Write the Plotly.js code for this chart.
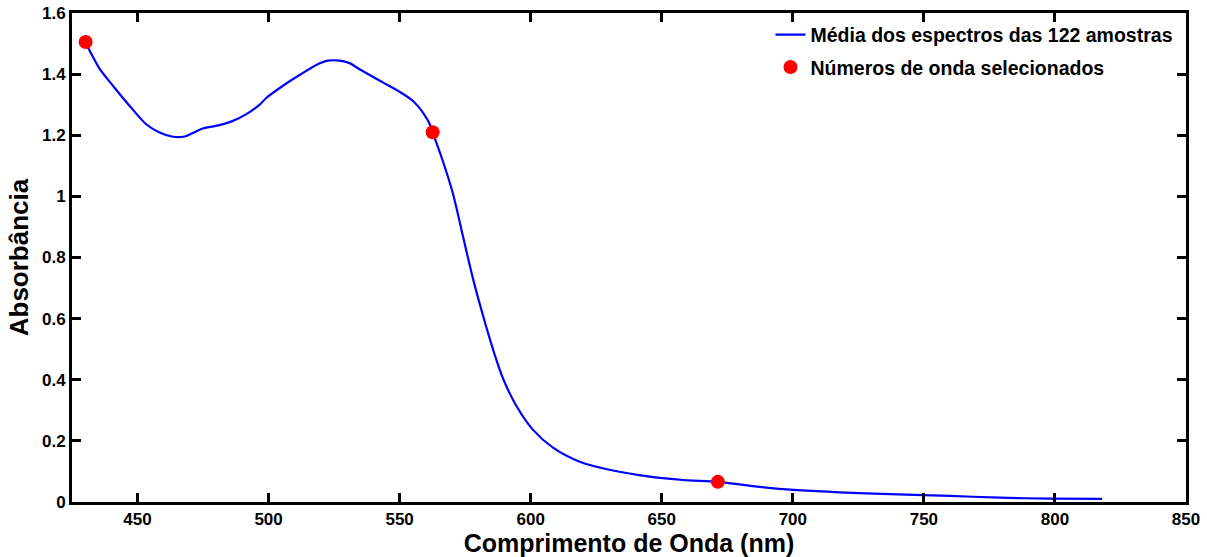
<!DOCTYPE html>
<html>
<head>
<meta charset="utf-8">
<script src="https://cdn.plot.ly/plotly-3.0.1.min.js"></script>
<style>html,body{margin:0;padding:0;background:#fff}#chart{width:1207px;height:557px}</style>
</head>
<body>
<div id="chart"></div>
<script>
// Mean spectrum (wavelength in nm, absorbance)
const wavelength = [430, 431.4, 435.5, 440.6, 447, 453.3, 458.4, 463.5, 468, 471.1, 474.9, 481.3, 486.4, 491.5, 496.6, 499.1, 505.5, 511.8, 518.2, 522.6, 527.1, 530.9, 534.7, 543.6, 550, 555.1, 558.9, 562.1, 562.6, 566.5, 570.3, 574.2, 578, 581.8, 585.6, 589.4, 594.5, 600.9, 608.5, 618.7, 631.4, 645.4, 658.1, 671.4, 683.6, 696.3, 728.1, 759.9, 779, 798.1, 818];
const absorbance = [1.505, 1.482, 1.418, 1.362, 1.296, 1.236, 1.209, 1.195, 1.196, 1.207, 1.222, 1.233, 1.247, 1.269, 1.300, 1.322, 1.362, 1.397, 1.430, 1.444, 1.444, 1.436, 1.416, 1.373, 1.342, 1.312, 1.274, 1.225, 1.21, 1.115, 1.010, 0.868, 0.730, 0.610, 0.500, 0.405, 0.315, 0.236, 0.178, 0.132, 0.103, 0.083, 0.072, 0.066, 0.053, 0.042, 0.028, 0.020, 0.014, 0.011, 0.010];
// Selected wavelengths
const selectedX = [430.2, 562.6, 671.4];
const selectedY = [1.505, 1.21, 0.066];
const seriesNames = ["Média dos espectros das 122 amostras", "Números de onda selecionados"];
const xTicks = [450, 500, 550, 600, 650, 700, 750, 800, 850];
const yTicks = [0, 0.2, 0.4, 0.6, 0.8, 1, 1.2, 1.4, 1.6];

const fontFam = "Liberation Sans, Arial, sans-serif";
const traces = [
  {x: wavelength, y: absorbance, type: 'scatter', mode: 'lines', name: seriesNames[0],
   line: {color: '#0000FF', width: 2.2, shape: 'spline', smoothing: 0.8}, legendgroup: 'a'},
  {x: selectedX, y: selectedY, type: 'scatter', mode: 'markers', name: seriesNames[1],
   marker: {color: '#FF0000', size: 14, symbol: 'circle'}, legendgroup: 'b'}
];
const axisCommon = {
  showline: true, linecolor: '#000', linewidth: 3, mirror: 'ticks',
  ticks: 'inside', ticklen: 9, tickwidth: 3, tickcolor: '#000',
  showgrid: false, zeroline: false,
  tickfont: {family: fontFam, size: 17, color: '#000', weight: 'bold'}
};
const layout = {
  width: 1207, height: 557,
  margin: {l: 72, r: 21, t: 13, b: 55},
  paper_bgcolor: '#fff', plot_bgcolor: '#fff',
  showlegend: true,
  xaxis: Object.assign({}, axisCommon, {
    range: [425, 850], tickvals: xTicks, ticktext: xTicks.map(String),
    title: {text: 'Comprimento de Onda (nm)', standoff: 3,
            font: {family: fontFam, size: 25, color: '#000', weight: 'bold'}}
  }),
  yaxis: Object.assign({}, axisCommon, {
    range: [0, 1.6], tickvals: yTicks, ticktext: yTicks.map(String),
    title: {text: 'Absorbância', standoff: 6,
            font: {family: fontFam, size: 26, color: '#000', weight: 'bold'}}
  }),
  legend: {
    x: 0.627, y: 0.995, xanchor: 'left', yanchor: 'top',
    bgcolor: 'rgba(255,255,255,0)', borderwidth: 0,
    traceorder: 'grouped', tracegroupgap: 4,
    font: {family: fontFam, size: 19.5, color: '#000', weight: 'bold'}
  }
};
Plotly.newPlot('chart', traces, layout, {displayModeBar: false, staticPlot: true});
</script>
</body>
</html>
